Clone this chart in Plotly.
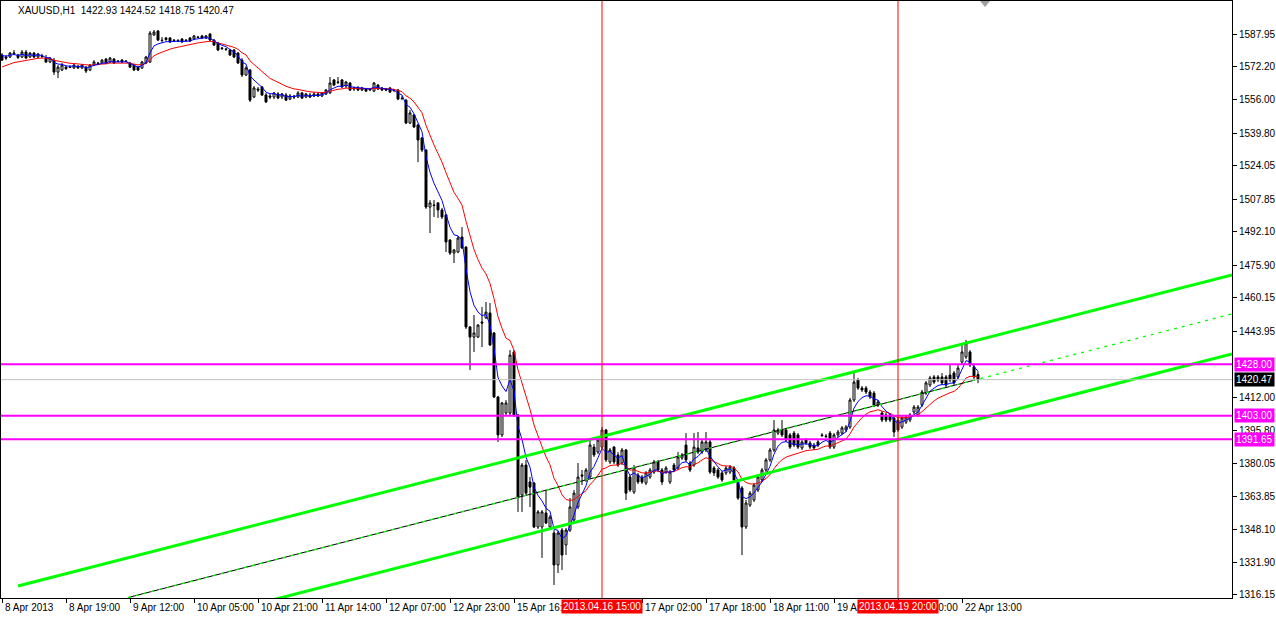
import plotly.graph_objects as go

SYMBOL = "XAUUSD,H1"

OPEN = [
    1577.8, 1576.8, 1576.8, 1578.3, 1577.8, 1576.8, 1579.2, 1576.8, 1578.7, 1576.8,
    1577.3, 1576.3, 1574.4, 1575.3, 1569.5, 1570.5, 1571.9, 1571.9, 1571.5, 1572.4,
    1571.5, 1571.9, 1570.5, 1572.9, 1573.9, 1573.9, 1575.8, 1574.4, 1575.8, 1574.9,
    1575.3, 1574.9, 1573.9, 1572.9, 1571.9, 1571.5, 1573.9, 1574.4, 1587.5, 1589.4,
    1585.0, 1586.0, 1586.0, 1585.0, 1584.8, 1585.5, 1585.0, 1586.0, 1585.5, 1586.5,
    1587.0, 1586.0, 1587.9, 1585.0, 1583.6, 1581.2, 1580.7, 1580.2, 1580.2, 1578.7,
    1575.3, 1568.1, 1570.5, 1557.4, 1561.3, 1562.3, 1558.4, 1557.9, 1557.4, 1558.9,
    1557.4, 1558.4, 1556.4, 1557.9, 1557.4, 1559.4, 1557.4, 1558.4, 1557.9, 1558.9,
    1557.9, 1558.9, 1559.4, 1565.7, 1564.7, 1565.7, 1562.8, 1564.2, 1561.3, 1561.8,
    1560.8, 1561.3, 1560.8, 1560.3, 1563.2, 1561.8, 1561.3, 1561.8, 1560.8, 1560.8,
    1556.9, 1555.9, 1544.8, 1548.7, 1543.9, 1537.6, 1531.7, 1504.1, 1505.1, 1506.1,
    1502.7, 1500.3, 1488.1, 1481.8, 1482.3, 1489.6, 1484.7, 1446.0, 1441.1, 1441.1,
    1448.4, 1450.4, 1452.8, 1443.1, 1412.1, 1393.7, 1404.3, 1404.3, 1433.9, 1403.4,
    1364.6, 1379.1, 1370.9, 1370.4, 1349.1, 1349.1, 1355.9, 1349.1, 1346.2, 1330.7,
    1347.6, 1340.4, 1347.6, 1352.5, 1358.8, 1374.3, 1371.9, 1373.3, 1387.8, 1385.4,
    1387.8, 1396.1, 1380.6, 1387.8, 1384.0, 1380.1, 1386.4, 1373.3, 1366.0, 1374.3,
    1373.3, 1370.4, 1373.3, 1375.7, 1380.6, 1376.7, 1375.7, 1370.9, 1379.1, 1377.7,
    1382.5, 1388.8, 1380.1, 1379.1, 1387.4, 1385.4, 1386.4, 1390.3, 1377.7, 1376.7,
    1375.3, 1375.3, 1375.7, 1377.7, 1370.9, 1368.0, 1349.1, 1359.7, 1362.2, 1367.0,
    1371.9, 1376.7, 1381.6, 1386.4, 1394.6, 1396.1, 1396.1, 1393.7, 1394.6, 1393.7,
    1387.4, 1391.2, 1389.8, 1388.8, 1390.3, 1393.7, 1393.2, 1394.6, 1387.8, 1393.7,
    1394.6, 1396.1, 1397.5, 1410.6, 1420.3, 1416.4, 1416.4, 1414.5, 1414.0, 1408.2,
    1404.3, 1403.4, 1403.4, 1401.9, 1400.9, 1397.5, 1399.9, 1400.9, 1404.8, 1403.4,
    1408.2, 1414.0, 1417.9, 1421.8, 1421.8, 1421.8, 1421.8, 1422.7, 1423.7, 1421.8,
    1429.0, 1431.5, 1433.9, 1426.6, 1422.93,
]

HIGH = [
    1578.7, 1577.8, 1579.2, 1580.2, 1578.3, 1580.2, 1580.2, 1579.2, 1579.2, 1578.7,
    1578.3, 1577.8, 1576.8, 1576.3, 1572.9, 1573.9, 1572.4, 1572.9, 1573.4, 1572.9,
    1573.4, 1572.4, 1573.4, 1575.3, 1574.4, 1575.8, 1576.3, 1576.8, 1576.3, 1575.3,
    1575.8, 1575.3, 1574.4, 1573.4, 1572.4, 1574.9, 1577.3, 1589.4, 1589.9, 1589.9,
    1586.5, 1586.5, 1586.5, 1585.5, 1585.5, 1586.0, 1585.5, 1586.5, 1587.5, 1587.0,
    1587.5, 1587.5, 1588.4, 1585.5, 1584.1, 1581.7, 1581.2, 1580.7, 1580.7, 1579.2,
    1576.3, 1572.4, 1571.0, 1562.8, 1562.3, 1562.8, 1559.4, 1558.9, 1559.8, 1559.8,
    1559.4, 1559.4, 1558.9, 1558.4, 1560.3, 1559.8, 1559.4, 1559.4, 1559.8, 1559.4,
    1559.8, 1561.3, 1567.1, 1566.1, 1567.1, 1566.1, 1565.2, 1564.7, 1562.3, 1562.8,
    1562.3, 1561.8, 1561.8, 1564.7, 1563.7, 1562.3, 1561.8, 1562.3, 1561.3, 1561.3,
    1557.9, 1556.4, 1551.1, 1549.2, 1544.3, 1538.1, 1532.2, 1507.5, 1507.5, 1506.5,
    1503.7, 1500.7, 1488.6, 1483.8, 1490.1, 1494.4, 1485.2, 1446.5, 1451.8, 1447.4,
    1455.7, 1458.1, 1457.6, 1443.6, 1412.6, 1409.7, 1410.6, 1434.8, 1434.8, 1403.8,
    1380.1, 1381.6, 1373.3, 1370.9, 1357.3, 1357.3, 1367.0, 1354.9, 1347.6, 1347.2,
    1348.6, 1348.6, 1363.1, 1367.0, 1380.1, 1376.7, 1377.7, 1391.2, 1389.3, 1392.2,
    1397.5, 1396.6, 1387.4, 1388.3, 1385.4, 1387.4, 1386.9, 1374.3, 1379.1, 1375.3,
    1374.3, 1376.2, 1377.7, 1381.6, 1381.6, 1377.7, 1378.6, 1376.7, 1380.1, 1385.4,
    1384.9, 1394.6, 1381.1, 1394.6, 1395.1, 1391.2, 1395.1, 1391.2, 1378.6, 1377.7,
    1376.2, 1378.6, 1379.1, 1378.6, 1371.9, 1368.9, 1362.2, 1366.5, 1370.4, 1374.3,
    1377.7, 1382.5, 1387.4, 1400.9, 1397.1, 1400.9, 1397.1, 1394.6, 1395.6, 1394.6,
    1391.2, 1392.2, 1390.8, 1389.8, 1391.2, 1394.6, 1394.1, 1395.6, 1394.6, 1396.1,
    1398.0, 1398.5, 1411.6, 1424.2, 1421.3, 1417.4, 1417.4, 1415.5, 1415.0, 1410.6,
    1405.3, 1404.3, 1404.3, 1402.9, 1401.9, 1402.9, 1403.4, 1404.3, 1408.2, 1408.2,
    1415.5, 1419.8, 1422.3, 1422.7, 1422.7, 1423.7, 1422.7, 1427.6, 1424.7, 1427.6,
    1437.3, 1439.7, 1434.8, 1427.6, 1424.52,
]

LOW = [
    1574.9, 1575.3, 1576.3, 1577.8, 1575.8, 1576.3, 1575.8, 1576.3, 1576.3, 1576.3,
    1576.3, 1573.9, 1573.9, 1568.1, 1566.6, 1570.0, 1570.5, 1571.5, 1571.0, 1571.0,
    1571.0, 1569.0, 1570.0, 1572.4, 1573.4, 1573.4, 1573.4, 1573.9, 1573.4, 1574.4,
    1573.9, 1574.4, 1571.5, 1570.0, 1570.0, 1571.0, 1573.4, 1573.9, 1587.0, 1584.6,
    1583.6, 1584.6, 1583.6, 1584.1, 1584.1, 1583.6, 1584.1, 1584.1, 1585.0, 1586.0,
    1585.5, 1585.5, 1584.6, 1582.1, 1579.7, 1580.2, 1579.7, 1577.3, 1576.3, 1573.4,
    1567.1, 1567.6, 1555.0, 1556.9, 1559.8, 1557.9, 1554.5, 1556.4, 1556.4, 1556.4,
    1556.4, 1555.5, 1555.9, 1556.4, 1556.9, 1556.4, 1556.9, 1556.9, 1557.4, 1557.4,
    1557.4, 1558.4, 1558.9, 1562.8, 1563.7, 1561.8, 1561.8, 1560.3, 1560.3, 1560.3,
    1560.3, 1559.8, 1560.3, 1559.8, 1560.8, 1560.3, 1560.3, 1559.4, 1559.8, 1555.9,
    1555.9, 1544.3, 1544.3, 1542.4, 1525.9, 1530.8, 1503.2, 1491.5, 1499.3, 1498.8,
    1498.3, 1482.3, 1480.9, 1477.0, 1481.8, 1483.8, 1445.0, 1425.2, 1433.9, 1440.7,
    1436.3, 1449.9, 1436.8, 1411.6, 1390.3, 1392.7, 1403.4, 1403.4, 1402.4, 1356.4,
    1356.4, 1364.6, 1358.8, 1348.6, 1348.1, 1334.1, 1350.5, 1348.6, 1321.0, 1326.8,
    1328.3, 1335.5, 1346.7, 1351.5, 1357.8, 1369.4, 1370.9, 1372.4, 1383.0, 1384.4,
    1386.9, 1380.6, 1379.6, 1379.6, 1378.2, 1379.1, 1362.2, 1366.0, 1365.1, 1369.9,
    1369.9, 1369.4, 1372.4, 1374.8, 1375.7, 1369.4, 1374.8, 1369.9, 1375.7, 1376.7,
    1381.6, 1380.6, 1375.7, 1378.2, 1384.4, 1384.4, 1385.4, 1374.8, 1373.8, 1372.4,
    1370.9, 1374.3, 1374.8, 1370.9, 1362.2, 1335.5, 1348.1, 1358.8, 1361.2, 1366.0,
    1370.9, 1375.7, 1380.6, 1385.4, 1393.7, 1392.7, 1390.3, 1386.9, 1387.8, 1386.9,
    1386.4, 1388.8, 1386.9, 1386.4, 1387.8, 1392.7, 1392.2, 1386.9, 1386.9, 1392.7,
    1393.7, 1395.1, 1396.6, 1409.7, 1415.5, 1414.5, 1413.5, 1411.1, 1407.2, 1407.2,
    1399.9, 1399.9, 1399.9, 1392.7, 1395.1, 1396.6, 1399.0, 1399.9, 1403.8, 1402.4,
    1407.2, 1413.0, 1416.9, 1418.4, 1419.3, 1417.9, 1416.9, 1419.3, 1417.9, 1420.8,
    1428.0, 1430.5, 1426.6, 1420.8, 1418.75,
]

CLOSE = [
    1575.3, 1576.3, 1578.7, 1578.7, 1576.6, 1579.2, 1576.3, 1578.7, 1576.8, 1578.3,
    1577.1, 1574.4, 1576.3, 1569.5, 1571.9, 1572.9, 1571.2, 1571.7, 1572.9, 1571.5,
    1572.9, 1570.0, 1572.9, 1574.4, 1573.7, 1575.3, 1573.9, 1576.3, 1573.9, 1574.6,
    1574.4, 1574.6, 1571.9, 1570.5, 1570.5, 1574.4, 1576.8, 1588.4, 1588.9, 1585.0,
    1584.8, 1585.3, 1584.1, 1584.8, 1584.6, 1584.1, 1584.8, 1584.6, 1587.0, 1586.3,
    1586.0, 1587.0, 1585.0, 1582.6, 1580.2, 1580.9, 1580.5, 1577.8, 1576.8, 1573.9,
    1568.1, 1571.5, 1555.9, 1561.8, 1560.8, 1558.4, 1555.0, 1557.4, 1559.4, 1556.9,
    1558.9, 1555.9, 1557.9, 1557.4, 1559.4, 1556.9, 1558.9, 1557.4, 1558.9, 1557.9,
    1559.4, 1560.8, 1564.2, 1563.2, 1564.5, 1562.3, 1564.7, 1560.8, 1561.8, 1560.8,
    1561.8, 1560.3, 1561.3, 1564.2, 1561.3, 1560.8, 1560.8, 1559.8, 1560.6, 1556.4,
    1556.7, 1544.8, 1549.7, 1542.9, 1536.6, 1531.7, 1504.1, 1506.1, 1504.9, 1502.7,
    1499.3, 1487.2, 1481.8, 1483.3, 1489.1, 1484.3, 1446.0, 1441.1, 1443.1, 1446.9,
    1447.9, 1453.2, 1437.3, 1412.1, 1393.7, 1409.2, 1409.2, 1432.4, 1403.4, 1363.6,
    1379.1, 1365.5, 1368.4, 1349.1, 1356.4, 1356.4, 1351.0, 1353.9, 1330.7, 1346.2,
    1335.5, 1347.6, 1358.8, 1365.5, 1373.3, 1373.8, 1376.7, 1388.8, 1384.0, 1391.2,
    1396.1, 1381.6, 1386.4, 1380.6, 1379.1, 1386.4, 1365.5, 1367.0, 1377.7, 1370.9,
    1370.9, 1375.3, 1376.7, 1380.6, 1376.7, 1370.9, 1377.7, 1375.7, 1376.7, 1383.0,
    1384.0, 1381.6, 1376.7, 1387.8, 1385.4, 1390.3, 1390.3, 1375.7, 1375.3, 1373.3,
    1371.9, 1377.7, 1378.2, 1371.9, 1363.1, 1349.1, 1360.7, 1365.5, 1369.4, 1373.3,
    1376.7, 1381.6, 1386.4, 1396.1, 1396.1, 1393.7, 1391.2, 1387.8, 1388.8, 1387.8,
    1390.3, 1389.8, 1387.8, 1387.4, 1388.8, 1393.4, 1392.9, 1387.8, 1393.7, 1395.1,
    1397.1, 1397.5, 1410.6, 1419.3, 1416.4, 1415.5, 1414.5, 1412.1, 1408.2, 1409.7,
    1400.9, 1400.9, 1400.9, 1395.1, 1396.1, 1401.9, 1402.4, 1403.4, 1407.2, 1407.2,
    1414.5, 1418.9, 1421.3, 1419.3, 1420.3, 1418.9, 1417.9, 1420.3, 1418.9, 1426.1,
    1433.9, 1438.2, 1427.6, 1421.8, 1420.47,
]

N = min(len(OPEN), len(HIGH), len(LOW), len(CLOSE))
BARS = list(range(N))

# Moving averages (fast blue, slow red) with starting values read at the left edge
FAST_PERIOD, FAST_START = 5, 1578.7
SLOW_PERIOD, SLOW_START = 14, 1571.5

TICK_BARS = [0, 16, 32, 48, 64, 80, 96, 112, 128, 144, 160, 176, 192, 208, 224, 240]
TICK_LABELS = ["8 Apr 2013", "8 Apr 19:00", "9 Apr 12:00", "10 Apr 05:00", "10 Apr 21:00",
               "11 Apr 14:00", "12 Apr 07:00", "12 Apr 23:00", "15 Apr 16:00", "16 Apr 09:00",
               "17 Apr 02:00", "17 Apr 18:00", "18 Apr 11:00", "19 Apr 04:00", "19 Apr 20:00",
               "22 Apr 13:00"]

PRICE_TICKS = [1587.95, 1572.20, 1556.00, 1539.80, 1524.05, 1507.85, 1492.10, 1475.90,
               1460.15, 1443.95, 1412.00, 1395.80, 1380.05, 1363.85, 1348.10, 1331.90, 1316.15]
PRICE_TICK_TEXT = ["1587.95", "1572.20", "1556.00", "1539.80", "1524.05", "1507.85", "1492.10",
                   "1475.90", "1460.15", "1443.95", "1412.00", "1395.80", "1380.05", "1363.85",
                   "1348.10", "1331.90", "1316.15"]

LEVELS = [1428.00, 1403.00, 1391.65]
LEVEL_TEXT = ["1428.00", "1403.00", "1391.65"]
BID = 1420.47

MARKED_BARS = [150, 224]
MARKED_TEXT = ["2013.04.16 15:00", "2013.04.19 20:00"]

# Equidistant channel (bar index, price)
CH_UPPER_X, CH_UPPER_Y = [4, 307.5], [1320.5, 1471.2]
CH_MID_X, CH_MID_Y = [31.5, 307.5], [1314.9, 1452.3]
TREND_X, TREND_Y = [31.5, 243.25], [1314.9, 1420.3]
CH_LOWER_X, CH_LOWER_Y = [67.5, 307.5], [1313.7, 1432.9]

X_RANGE = [-0.25, 307.5]
Y_RANGE = [1314.69, 1603.94]


def ema(values, period, start):
    a = 2.0 / (period + 1)
    out, prev = [], start
    for v in values:
        prev = prev + a * (v - prev)
        out.append(prev)
    return out


FONT = "Liberation Sans"
fig = go.Figure()

fig.add_trace(go.Candlestick(
    x=BARS, open=OPEN[:N], high=HIGH[:N], low=LOW[:N], close=CLOSE[:N],
    increasing=dict(line=dict(color="black", width=1), fillcolor="white"),
    decreasing=dict(line=dict(color="black", width=1), fillcolor="black"),
    whiskerwidth=0, hoverinfo="skip", showlegend=False,
))

fig.add_trace(go.Scatter(x=BARS, y=ema(CLOSE[:N], SLOW_PERIOD, SLOW_START), mode="lines",
                         line=dict(color="#FF0000", width=1), hoverinfo="skip", showlegend=False))
fig.add_trace(go.Scatter(x=BARS, y=ema(CLOSE[:N], FAST_PERIOD, FAST_START), mode="lines",
                         line=dict(color="#0000FF", width=1), hoverinfo="skip", showlegend=False))

# channel
for xs, ys in [(CH_UPPER_X, CH_UPPER_Y), (CH_LOWER_X, CH_LOWER_Y)]:
    fig.add_trace(go.Scatter(x=xs, y=ys, mode="lines", line=dict(color="#00FF00", width=3),
                             hoverinfo="skip", showlegend=False))
fig.add_trace(go.Scatter(x=TREND_X, y=TREND_Y, mode="lines", line=dict(color="black", width=1),
                         hoverinfo="skip", showlegend=False))
fig.add_trace(go.Scatter(x=CH_MID_X, y=CH_MID_Y, mode="lines",
                         line=dict(color="#00FF00", width=1.3, dash="3px,5px"),
                         hoverinfo="skip", showlegend=False))

shapes = []
shapes.append(dict(type="line", xref="paper", x0=0, x1=1, yref="y", y0=BID, y1=BID,
                   line=dict(color="#C0C0C0", width=1), layer="above"))
for lv in LEVELS:
    shapes.append(dict(type="line", xref="paper", x0=0, x1=1, yref="y", y0=lv, y1=lv,
                       line=dict(color="#FF00FF", width=2), layer="above"))
for b in MARKED_BARS:
    shapes.append(dict(type="line", xref="x", x0=b, x1=b, yref="paper", y0=0, y1=1,
                       line=dict(color="#FF0000", width=1), layer="above"))
# chart-shift marker
shapes.append(dict(type="path", xref="paper", yref="paper",
                   path="M 0.7953 1.0 L 0.8034 1.0 L 0.7994 0.990 Z",
                   fillcolor="#A0A0A0", line=dict(width=0), layer="above"))

annotations = []
annotations.append(dict(xref="paper", yref="paper", x=0.012, y=1, xanchor="left", yanchor="top",
                        yshift=-2, showarrow=False,
                        text=f"{SYMBOL}  {OPEN[-1]:.2f} {HIGH[-1]:.2f} {LOW[-1]:.2f} {CLOSE[-1]:.2f}",
                        font=dict(family=FONT, size=10, color="black")))
for b, t in zip(TICK_BARS, TICK_LABELS):
    annotations.append(dict(xref="x", yref="paper", x=b, y=0, xanchor="left", yanchor="top",
                            xshift=1, yshift=-2, showarrow=False, text=t,
                            font=dict(family=FONT, size=10, color="black")))
for b, t in zip(MARKED_BARS, MARKED_TEXT):
    annotations.append(dict(xref="x", yref="paper", x=b, y=0, xanchor="center", yanchor="top",
                            yshift=-1, showarrow=False, text=t, bgcolor="#FF0000", borderpad=1,
                            font=dict(family=FONT, size=10, color="white")))
for lv, t in zip(LEVELS, LEVEL_TEXT):
    annotations.append(dict(xref="paper", yref="y", x=1, y=lv, xanchor="left", yanchor="middle",
                            xshift=2, showarrow=False, text=t, bgcolor="#FF00FF", borderpad=1,
                            font=dict(family=FONT, size=10, color="white")))
annotations.append(dict(xref="paper", yref="y", x=1, y=BID, xanchor="left", yanchor="middle",
                        xshift=2, showarrow=False, text=f"{BID:.2f}", bgcolor="black", borderpad=1,
                        font=dict(family=FONT, size=10, color="white")))

fig.update_layout(
    width=1276, height=617,
    margin=dict(l=1, r=44, t=1, b=19),
    paper_bgcolor="white", plot_bgcolor="white",
    showlegend=False,
    font=dict(family=FONT, size=10, color="black"),
    shapes=shapes, annotations=annotations,
    xaxis=dict(range=X_RANGE, showgrid=False, zeroline=False, showline=True, mirror=True,
               linecolor="black", linewidth=1, ticks="outside", ticklen=4, tickcolor="black",
               tickvals=TICK_BARS, showticklabels=False, rangeslider=dict(visible=False),
               automargin=False, fixedrange=True),
    yaxis=dict(range=Y_RANGE, side="right", showgrid=False, zeroline=False, showline=True,
               mirror=True, linecolor="black", linewidth=1, ticks="outside", ticklen=4,
               tickcolor="black", tickvals=PRICE_TICKS, ticktext=PRICE_TICK_TEXT,
               tickfont=dict(family=FONT, size=10, color="black"), automargin=False,
               fixedrange=True),
)

fig.write_html(
    "out.html",
    config={"displayModeBar": False},
    post_script="document.body.style.margin='0';document.body.style.overflow='hidden';",
)
